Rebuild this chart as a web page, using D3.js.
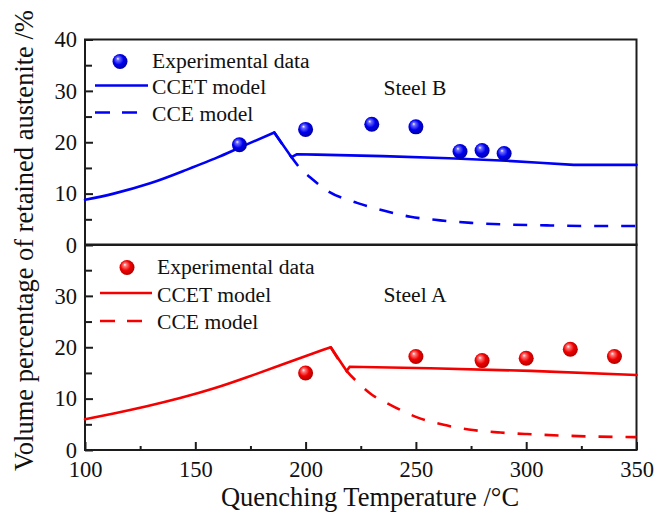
<!DOCTYPE html>
<html>
<head>
<meta charset="utf-8">
<script src="https://cdn.jsdelivr.net/npm/d3@7"></script>
<style>
  html, body { margin: 0; padding: 0; background: #fff; }
  svg { display: block; }
</style>
</head>
<body>
<div id="chart"></div>
<script>
// Retained austenite vs. quenching temperature, two steels in stacked panels.

// x-axis ticks (°C)
const xMajorTicks = [100, 150, 200, 250, 300, 350];
const xMinorTicks = [125, 175, 225, 275, 325];
// y-axis ticks (%)
const yMajorTicksTop = [0, 10, 20, 30, 40];
const yMajorTicksBottom = [0, 10, 20, 30, 40];
const yLabelTicksBottom = [0, 10, 20, 30];
const yMinorTicks = [5, 15, 25, 35];

// Steel B (upper panel)
const steelBExpTemp = [170, 200, 230, 250, 270, 280, 290];
const steelBExpVal  = [19.5, 22.5, 23.5, 23.0, 18.2, 18.4, 17.8];
// CCET model: rising branch up to the peak, then the branch after it
const steelBCcetRiseTemp = [100, 113, 129.5, 144.6, 159.8, 170.3, 185.8];
const steelBCcetRiseVal  = [8.8, 10.0, 12.0, 14.4, 17.0, 19.0, 21.9];
const steelBCcetFallTemp = [185.8, 193.6, 196, 205, 235, 265, 291, 306, 321.5, 350];
const steelBCcetFallVal  = [21.9, 17.1, 17.65, 17.6, 17.3, 16.9, 16.4, 16.0, 15.6, 15.6];
const steelBCceTemp = [185.8, 193.6, 198, 202, 209.7, 223.3, 235.3, 247.5, 261, 275, 290, 311, 330, 350];
const steelBCceVal  = [21.9, 17.1, 14.7, 13.2, 10.6, 8.2, 6.7, 5.5, 4.8, 4.3, 4.0, 3.8, 3.7, 3.7];

// Steel A (lower panel)
const steelAExpTemp = [200, 250, 280, 300, 320, 340];
const steelAExpVal  = [15.0, 18.2, 17.4, 17.85, 19.6, 18.2];
const steelACcetRiseTemp = [100, 113, 128, 143.1, 158.2, 173.4, 188.5, 203.6, 211.4];
const steelACcetRiseVal  = [6.0, 7.1, 8.5, 10.1, 11.95, 14.15, 16.5, 18.85, 20.0];
const steelACcetFallTemp = [211.4, 218.6, 220, 256.5, 302, 350];
const steelACcetFallVal  = [20.0, 15.4, 16.2, 15.9, 15.4, 14.6];
const steelACceTemp = [211.4, 218.6, 224, 229.3, 238.4, 249.7, 262.6, 273.9, 288.3, 300.4, 317, 332.2, 350];
const steelACceVal  = [20.0, 15.4, 13.0, 11.0, 8.8, 6.5, 4.9, 4.0, 3.4, 3.1, 2.8, 2.6, 2.5];

const legendLabels = ["Experimental data", "CCET model", "CCE model"];
const panelLabels = ["Steel B", "Steel A"];
const xTitle = "Quenching Temperature /°C";
const yTitle = "Volume percentage of retained austenite /%";

const FONT = '"Liberation Serif", "Times New Roman", serif';
const INK = "#111";
const FRAME = "#1c1c1c";

const W = 657, H = 521;
const svg = d3.select("#chart").append("svg").attr("width", W).attr("height", H)
  .style("font-family", FONT);

const x = d3.scaleLinear().domain([100, 350]).range([85, 636.5]);
const yTop = d3.scaleLinear().domain([0, 40]).range([245, 39.5]);
const yBot = d3.scaleLinear().domain([0, 40]).range([450, 244.5]);

// sphere-like marker fills
const defs = svg.append("defs");
function sphereGrad(id, c0, c1, c2) {
  const g = defs.append("radialGradient").attr("id", id)
    .attr("cx", "45%").attr("cy", "45%").attr("r", "60%")
    .attr("fx", "35%").attr("fy", "30%");
  g.append("stop").attr("offset", "0%").attr("stop-color", "#ffffff");
  g.append("stop").attr("offset", "18%").attr("stop-color", c0);
  g.append("stop").attr("offset", "55%").attr("stop-color", c1);
  g.append("stop").attr("offset", "100%").attr("stop-color", c2);
}
sphereGrad("ballBlue", "#6b6bff", "#0000f0", "#00009a");
sphereGrad("ballRed", "#ff7a7a", "#f00000", "#a80000");

const DASH = "14,13";

function label(sel, size) {
  return sel.attr("font-size", size).attr("fill", INK).style("font-family", FONT);
}

function panel(cfg) {
  const g = svg.append("g");
  const y = cfg.y;

  // frame
  g.append("rect")
    .attr("x", x.range()[0]).attr("y", y.range()[1])
    .attr("width", x.range()[1] - x.range()[0])
    .attr("height", y.range()[0] - y.range()[1])
    .attr("fill", "none").attr("stroke", FRAME).attr("stroke-width", 2);

  // y axis (inward ticks)
  const ya = g.append("g").attr("transform", `translate(${x.range()[0]},0)`)
    .call(d3.axisLeft(y).tickValues(cfg.yMajor).tickSize(-8).tickPadding(8)
      .tickFormat(d => cfg.yLabels.includes(d) ? d3.format("d")(d) : ""));
  ya.attr("font-family", null).attr("font-size", null);
  ya.select(".domain").remove();
  ya.selectAll("line").attr("stroke", FRAME).attr("stroke-width", 2);
  label(ya.selectAll("text"), 22.5);

  const yam = g.append("g").attr("transform", `translate(${x.range()[0]},0)`)
    .call(d3.axisLeft(y).tickValues(yMinorTicks).tickSize(-7).tickFormat(""));
  yam.select(".domain").remove();
  yam.selectAll("line").attr("stroke", FRAME).attr("stroke-width", 2);

  if (cfg.xAxis) {
    const xa = g.append("g").attr("transform", `translate(0,${y.range()[0]})`)
      .call(d3.axisBottom(x).tickValues(xMajorTicks).tickSize(-8).tickPadding(11.5)
        .tickFormat(d3.format("d")));
    xa.attr("font-family", null).attr("font-size", null);
    xa.select(".domain").remove();
    xa.selectAll("line").attr("stroke", FRAME).attr("stroke-width", 2);
    label(xa.selectAll("text"), 22.5);
    const xm = g.append("g").attr("transform", `translate(0,${y.range()[0]})`)
      .call(d3.axisBottom(x).tickValues(xMinorTicks).tickSize(-4).tickFormat(""));
    xm.select(".domain").remove();
    xm.selectAll("line").attr("stroke", FRAME).attr("stroke-width", 2);
  }

  // model curves
  const straight = d3.line().x(d => x(d[0])).y(d => y(d[1])).curve(d3.curveLinear);
  const monotone = d3.line().x(d => x(d[0])).y(d => y(d[1])).curve(d3.curveMonotoneX);
  const spline = d3.line().x(d => x(d[0])).y(d => y(d[1])).curve(d3.curveNatural);

  g.append("path")
    .datum(d3.zip(cfg.cceT, cfg.cceV))
    .attr("d", monotone).attr("fill", "none")
    .attr("stroke", cfg.color).attr("stroke-width", 2.6)
    .attr("stroke-dasharray", DASH);

  g.append("path")
    .datum(d3.zip(cfg.riseT, cfg.riseV))
    .attr("d", spline).attr("fill", "none")
    .attr("stroke", cfg.color).attr("stroke-width", 2.6)
    .attr("stroke-linecap", "round");

  g.append("path")
    .datum(d3.zip(cfg.fallT, cfg.fallV))
    .attr("d", straight).attr("fill", "none")
    .attr("stroke", cfg.color).attr("stroke-width", 2.6)
    .attr("stroke-linejoin", "miter").attr("stroke-linecap", "round");

  // experimental points
  g.selectAll("circle.exp")
    .data(d3.zip(cfg.expT, cfg.expV))
    .join("circle").attr("class", "exp")
    .attr("cx", d => x(d[0])).attr("cy", d => y(d[1]))
    .attr("r", 7.5).attr("fill", `url(#${cfg.grad})`);

  // legend
  const L = cfg.legend;
  g.append("circle").attr("cx", L.markerX).attr("cy", L.rows[0] - 6.5)
    .attr("r", 7.5).attr("fill", `url(#${cfg.grad})`);
  g.append("line").attr("x1", L.lineX0).attr("x2", L.lineX1)
    .attr("y1", L.rows[1] - 8.5).attr("y2", L.rows[1] - 8.5)
    .attr("stroke", cfg.color).attr("stroke-width", 2.6);
  g.append("line").attr("x1", L.lineX0).attr("x2", L.lineX0 + 42)
    .attr("y1", L.rows[2] - 8).attr("y2", L.rows[2] - 8)
    .attr("stroke", cfg.color).attr("stroke-width", 2.6)
    .attr("stroke-dasharray", "15,12");
  legendLabels.forEach((t, i) => {
    label(g.append("text").attr("x", L.textX).attr("y", L.rows[i]), 21.6).text(t);
  });
  label(g.append("text").attr("x", 415).attr("y", cfg.labelY)
    .attr("text-anchor", "middle"), 21.6).text(cfg.label);
}

panel({
  y: yTop, yMajor: yMajorTicksTop, yLabels: yMajorTicksTop, xAxis: false,
  color: "#0000f5", grad: "ballBlue",
  expT: steelBExpTemp, expV: steelBExpVal,
  riseT: steelBCcetRiseTemp, riseV: steelBCcetRiseVal,
  fallT: steelBCcetFallTemp, fallV: steelBCcetFallVal,
  cceT: steelBCceTemp, cceV: steelBCceVal,
  legend: { markerX: 120, lineX0: 95, lineX1: 148, textX: 152, rows: [68, 94, 120.5] },
  label: panelLabels[0], labelY: 95
});

panel({
  y: yBot, yMajor: yMajorTicksBottom, yLabels: yLabelTicksBottom, xAxis: true,
  color: "#f50000", grad: "ballRed",
  expT: steelAExpTemp, expV: steelAExpVal,
  riseT: steelACcetRiseTemp, riseV: steelACcetRiseVal,
  fallT: steelACcetFallTemp, fallV: steelACcetFallVal,
  cceT: steelACceTemp, cceV: steelACceVal,
  legend: { markerX: 127, lineX0: 100, lineX1: 152, textX: 157, rows: [274, 301.5, 329] },
  label: panelLabels[1], labelY: 301.5
});

// axis titles
label(svg.append("text").attr("x", 370).attr("y", 506)
  .attr("text-anchor", "middle"), 26.5).text(xTitle);
label(svg.append("text")
  .attr("transform", "translate(33,240.5) rotate(-90)")
  .attr("text-anchor", "middle"), 26.5).text(yTitle);
</script>
</body>
</html>
